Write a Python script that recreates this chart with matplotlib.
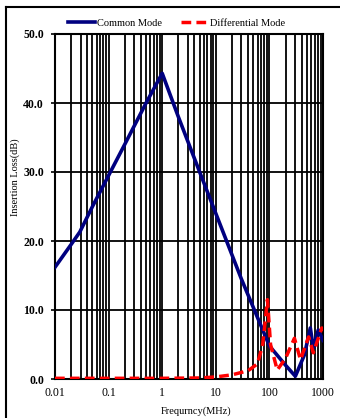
import matplotlib
matplotlib.use("Agg")
import matplotlib.pyplot as plt
from matplotlib.lines import Line2D
from matplotlib.ticker import FixedLocator, NullFormatter

plt.rcParams['font.family'] = ['Liberation Serif', 'DejaVu Serif']

# Common mode data (MHz, dB)
cm_freq = [0.01, 0.02, 0.029, 0.05, 0.1, 0.2, 0.5, 1.0, 2.0, 5.0, 10.0, 30.0, 100.0, 200.0, 305.0, 450.0, 580.0, 660.0, 815.0, 1000.0]
cm_db   = [16.2, 19.5, 21.3, 25.0, 29.5, 34.0, 40.0, 44.3, 38.0, 30.0, 24.0, 14.5, 4.8, 2.0, 0.4, 3.5, 7.4, 4.5, 7.1, 5.6]

# Differential mode data (MHz, dB)
dm_freq = [0.01, 0.1, 1.0, 5.0, 10.0, 20.0, 40.0, 60.0, 75.0, 92.0, 105.0, 140.0, 200.0, 293.0, 380.0, 540.0, 660.0, 950.0, 1000.0]
dm_db   = [0.1, 0.1, 0.1, 0.15, 0.3, 0.6, 1.2, 2.2, 5.0, 11.5, 5.0, 1.3, 3.0, 5.9, 2.8, 6.1, 3.8, 7.4, 7.0]

x_ticks = [0.01, 0.1, 1, 10, 100, 1000]
x_labels = ["0.01", "0.1", "1", "10", "100", "1000"]
y_ticks = [0, 10, 20, 30, 40, 50]
y_labels = ["0.0", "10.0", "20.0", "30.0", "40.0", "50.0"]

W, H = 340, 418
fig = plt.figure(figsize=(3.4, 4.18), dpi=100)
ax = fig.add_axes([55/W, 1-379/H, (323-55)/W, (379-34)/H])

ax.plot(cm_freq, cm_db, color='#000080', lw=2.6, label='Common Mode', zorder=3)
ax.plot(dm_freq, dm_db, color='#ff0000', lw=2.5, ls=(0, (2.8, 1.5)), label='Differential Mode', zorder=4)

ax.set_xscale('log')
ax.set_xlim(0.01, 1000)
ax.set_ylim(0, 50)

minor = [m * 10.0**e for e in range(-2, 3) for m in range(2, 10)]
ax.xaxis.set_major_locator(FixedLocator(x_ticks))
ax.xaxis.set_minor_locator(FixedLocator(minor))
ax.xaxis.set_minor_formatter(NullFormatter())
ax.set_xticks(x_ticks)
ax.set_xticklabels(x_labels, fontsize=8.5)
ax.set_yticks(y_ticks)
ax.set_yticklabels(y_labels, fontsize=8.5, fontweight='bold')

ax.grid(True, which='both', axis='x', color='black', lw=1.3)
ax.grid(True, which='major', axis='y', color='black', lw=1.3)
ax.tick_params(axis='x', which='both', length=0, pad=6)
ax.tick_params(axis='y', which='major', length=3, width=1.2, direction='out', pad=5)
for s in ax.spines.values():
    s.set_linewidth(1.5)
ax.set_axisbelow(True)

fig.text(196/W, 1-411/H, 'Frequrncy(MHz)', fontsize=7.5, ha='center', va='center')
fig.text(15/W, 1-177/H, 'Insertion Loss(dB)', fontsize=7.5, ha='center', va='center', rotation=90)

leg = fig.legend(loc='center', bbox_to_anchor=(176.5/W, 1-23/H), ncol=2, frameon=False,
                 fontsize=7.5, handlelength=2.6, columnspacing=1.8, handletextpad=0.2,
                 borderaxespad=0)

# figure frame lines (left and top)
fig.add_artist(Line2D([6/W, 6/W], [0, 1-7/H], transform=fig.transFigure, color='black', lw=1.5))
fig.add_artist(Line2D([6/W, 1], [1-7/H, 1-7/H], transform=fig.transFigure, color='black', lw=1.5))

fig.savefig('out.png', dpi=100)
